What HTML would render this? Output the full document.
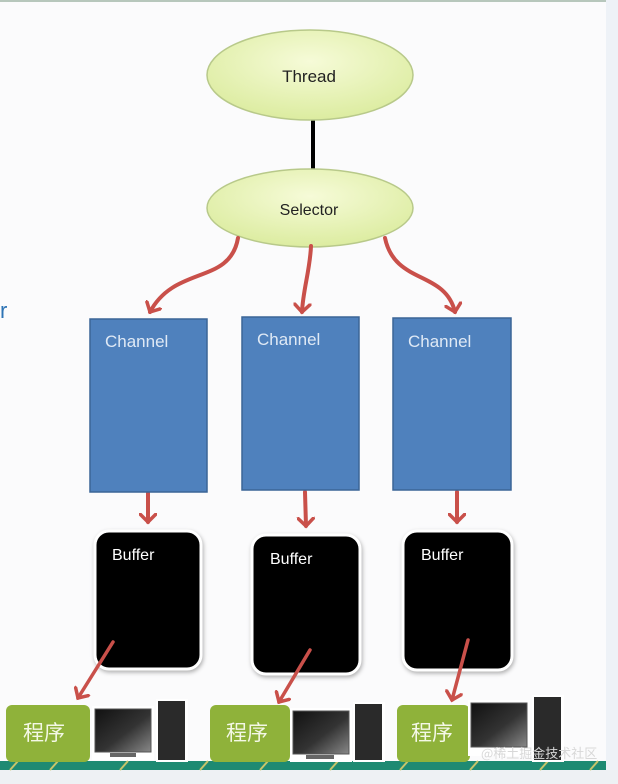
<!DOCTYPE html>
<html><head><meta charset="utf-8"><style>
html,body{margin:0;padding:0;}
body{width:618px;height:784px;overflow:hidden;background:#f9fafb;position:relative;font-family:"Liberation Sans","Noto Sans CJK SC",sans-serif;}
</style></head><body>
<svg width="618" height="784" viewBox="0 0 618 784" xmlns="http://www.w3.org/2000/svg" style="position:absolute;left:0;top:0">
<defs>
<radialGradient id="g" cx="50%" cy="35%" r="65%"><stop offset="0" stop-color="#f6fbd8"/><stop offset="1" stop-color="#dcecA0"/></radialGradient>
<linearGradient id="scr" x1="0" y1="0" x2="1" y2="1"><stop offset="0" stop-color="#111"/><stop offset="0.55" stop-color="#333"/><stop offset="1" stop-color="#888"/></linearGradient>
<marker id="ah" markerWidth="18" markerHeight="18" refX="9" refY="9" orient="auto" markerUnits="userSpaceOnUse" viewBox="0 0 18 18"><path d="M1,1 L9,9 L1,17" fill="none" stroke="#c9504a" stroke-width="3.5" stroke-linecap="round"/></marker>
</defs>
<rect x="0" y="0" width="618" height="784" fill="#fbfbfc"/>
<rect x="606" y="0" width="12" height="784" fill="#eef2f7"/>
<rect x="0" y="0" width="606" height="2" fill="#b7c7bc"/>
<rect x="0" y="770" width="618" height="14" fill="#eef1f4"/>
<rect x="0" y="761" width="606" height="9" fill="#1e8a72"/>
<g stroke="#c7c46a" stroke-width="2">
<line x1="10" y1="770" x2="18" y2="761"/><line x1="50" y1="770" x2="58" y2="761"/><line x1="120" y1="770" x2="128" y2="761"/><line x1="200" y1="770" x2="208" y2="761"/><line x1="260" y1="770" x2="268" y2="761"/><line x1="330" y1="770" x2="338" y2="761"/><line x1="400" y1="770" x2="408" y2="761"/><line x1="470" y1="770" x2="478" y2="761"/><line x1="540" y1="770" x2="548" y2="761"/><line x1="590" y1="770" x2="598" y2="761"/>
</g>
<line x1="313" y1="119" x2="313" y2="170" stroke="#000" stroke-width="4"/>
<ellipse cx="310" cy="75" rx="103" ry="45" fill="url(#g)" stroke="#b8c98a" stroke-width="1.5"/>
<text x="309" y="82" text-anchor="middle" font-size="17" fill="#222">Thread</text>
<ellipse cx="310" cy="208" rx="103" ry="39" fill="url(#g)" stroke="#b8c98a" stroke-width="1.5"/>
<text x="309" y="215" text-anchor="middle" font-size="16" fill="#222">Selector</text>
<g fill="none" stroke="#c9504a" stroke-width="4" stroke-linecap="round">
<path d="M238,238 C230,285 175,265 150,312" marker-end="url(#ah)"/>
<path d="M311,246 C310,270 303,290 302,312" marker-end="url(#ah)"/>
<path d="M385,238 C395,285 445,270 455,312" marker-end="url(#ah)"/>
<path d="M148,493 L148,522" marker-end="url(#ah)"/>
<path d="M305,492 L306,526" marker-end="url(#ah)"/>
<path d="M457,492 L457,522" marker-end="url(#ah)"/>
</g>
<g fill="#4f81bd" stroke="#3b6596" stroke-width="1.5">
<rect x="90" y="319" width="117" height="173"/>
<rect x="242" y="317" width="117" height="173"/>
<rect x="393" y="318" width="118" height="172"/>
</g>
<g font-size="17" fill="#dfe9f5">
<text x="105" y="347">Channel</text>
<text x="257" y="345">Channel</text>
<text x="408" y="347">Channel</text>
</g>
<g fill="#000" stroke="#fff" stroke-width="3">
<rect x="95" y="531" width="106" height="138" rx="14" style="filter:drop-shadow(1px 2px 2px rgba(0,0,0,.3))"/>
<rect x="252" y="535" width="108" height="139" rx="14" style="filter:drop-shadow(1px 2px 2px rgba(0,0,0,.3))"/>
<rect x="403" y="531" width="109" height="139" rx="14" style="filter:drop-shadow(1px 2px 2px rgba(0,0,0,.3))"/>
</g>
<g font-size="16" fill="#fff">
<text x="112" y="560">Buffer</text>
<text x="270" y="564">Buffer</text>
<text x="421" y="560">Buffer</text>
</g>
<g fill="#8fb23a">
<rect x="6" y="705" width="84" height="57" rx="6"/>
<rect x="210" y="705" width="80" height="57" rx="6"/>
<rect x="397" y="705" width="73" height="57" rx="6"/>
</g>
<g font-size="21" fill="#f4f8e6" font-family="'Noto Sans CJK SC',sans-serif">
<text x="23" y="740">程序</text>
<text x="226" y="740">程序</text>
<text x="411" y="740">程序</text>
</g>
<g>
<rect x="92" y="706" width="62" height="54" fill="#fff"/>
<rect x="95" y="709" width="56" height="43" fill="url(#scr)" stroke="#555"/>
<rect x="110" y="753" width="26" height="4" fill="#666"/>
<rect x="156" y="699" width="32" height="63" fill="#fff"/>
<rect x="158" y="701" width="27" height="59" fill="#2a2a2a"/>
<rect x="290" y="708" width="62" height="54" fill="#fff"/>
<rect x="293" y="711" width="56" height="43" fill="url(#scr)" stroke="#555"/>
<rect x="306" y="755" width="28" height="4" fill="#666"/>
<rect x="353" y="702" width="32" height="60" fill="#fff"/>
<rect x="355" y="704" width="27" height="56" fill="#2a2a2a"/>
<rect x="468" y="700" width="62" height="56" fill="#fff"/>
<rect x="471" y="703" width="56" height="44" fill="url(#scr)" stroke="#555"/>
<rect x="532" y="695" width="32" height="67" fill="#fff"/>
<rect x="534" y="697" width="27" height="63" fill="#2a2a2a"/>
</g>
<g fill="none" stroke="#c9504a" stroke-width="3.5" stroke-linecap="round">
<path d="M113,642 L78,698" marker-end="url(#ah)"/>
<path d="M310,650 L279,702" marker-end="url(#ah)"/>
<path d="M468,640 L452,700" marker-end="url(#ah)"/>
</g>
<text x="481" y="758" font-size="13" fill="#d8d8d8" font-family="'Noto Sans CJK SC',sans-serif">@稀土掘金技术社区</text>
<text x="0" y="318" font-size="22" fill="#2e74b5">r</text>
</svg>
</body></html>
